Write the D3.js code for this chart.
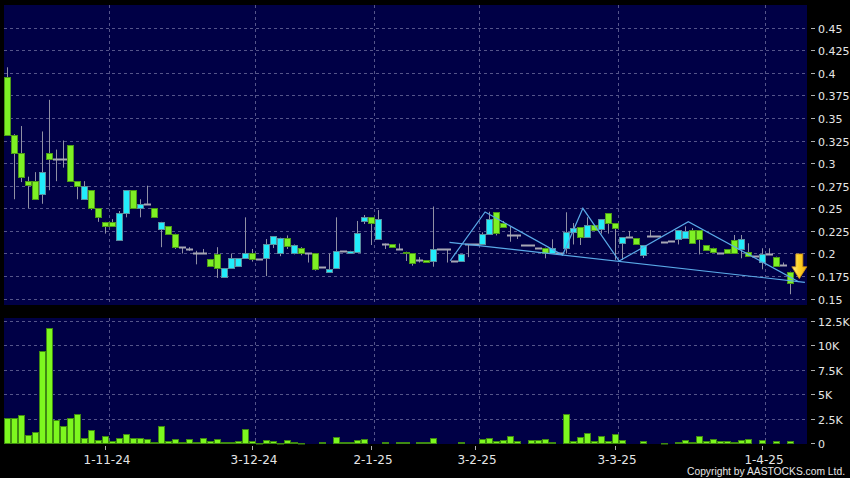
<!DOCTYPE html>
<html><head><meta charset="utf-8">
<script src="https://cdn.jsdelivr.net/npm/d3@7"></script>
<style>
html,body{margin:0;padding:0;background:#000;}
svg{display:block;}
</style></head>
<body>
<svg id="chart" width="850" height="478"></svg>
<script>
// ---------------- DATA ----------------
const openP = [0.395,0.331,0.311,0.28,0.28,0.266,0.311,0.305,0.305,0.32,0.28,0.26,0.27,0.25,0.235,0.235,0.215,0.245,0.27,0.25,
0.255,0.25,0.227,0.23,0.222,0.207,0.205,0.2,0.2,0.194,0.199,0.174,0.184,0.186,0.195,0.201,0.194,0.195,0.211,0.2,
0.2175,0.2,0.206,0.2,0.2,0.185,0.18,0.184,0.203,0.2,0.202,0.2365,0.24,0.2157,0.211,0.2105,0.205,0.202,0.2,0.193,
0.1928,0.1917,0.205,0.205,0.192,0.192,0.2105,0.2105,0.2102,0.2212,0.2456,0.2334,0.22,0.22,0.2094,0.2094,0.2058,0.2064,0.2002,0.2,
0.2058,0.2242,0.229,0.2186,0.2315,0.2268,0.2445,0.2334,0.2113,0.2186,0.2168,0.1983,0.2194,0.2194,0.2124,0.2138,0.2157,0.2168,0.226,0.226,
0.209,0.2064,0.2009,0.2047,0.2149,0.2047,0.2013,0.1972,0.1909,0.1995,0.1965,0.1873,0.1799];
const highP = [0.406,0.332,0.341,0.285,0.29,0.335,0.37,0.315,0.325,0.32,0.28,0.28,0.27,0.25,0.235,0.238,0.247,0.27,0.27,0.26,
0.275,0.25,0.235,0.23,0.222,0.207,0.207,0.203,0.205,0.194,0.207,0.184,0.2,0.195,0.24,0.205,0.194,0.216,0.219,0.2175,
0.22,0.21,0.207,0.2,0.2,0.185,0.2,0.24,0.203,0.203,0.236,0.2426,0.24,0.248,0.211,0.2105,0.211,0.202,0.2,0.196,
0.1928,0.252,0.205,0.205,0.192,0.199,0.2105,0.2105,0.2234,0.2462,0.2456,0.236,0.2297,0.22,0.2094,0.2094,0.2058,0.2064,0.2157,0.2,
0.2456,0.2337,0.229,0.24,0.2315,0.2378,0.2445,0.2334,0.218,0.225,0.2168,0.2094,0.226,0.2194,0.2124,0.2138,0.226,0.23,0.228,0.226,
0.209,0.2064,0.2009,0.2047,0.2205,0.2205,0.2113,0.1972,0.2058,0.2058,0.1965,0.19,0.1799];
const lowP = [0.331,0.26,0.279,0.25,0.26,0.255,0.27,0.28,0.295,0.28,0.26,0.26,0.248,0.235,0.222,0.23,0.215,0.24,0.25,0.24,
0.255,0.24,0.207,0.222,0.205,0.2,0.203,0.188,0.2,0.186,0.173,0.173,0.184,0.186,0.195,0.191,0.194,0.175,0.206,0.197,
0.205,0.199,0.198,0.19,0.181,0.185,0.18,0.183,0.203,0.2,0.202,0.2326,0.2094,0.2157,0.205,0.2075,0.205,0.1917,0.1865,0.19,
0.1903,0.1854,0.205,0.19,0.192,0.192,0.196,0.2105,0.2094,0.2212,0.22,0.229,0.213,0.216,0.2094,0.2094,0.2058,0.1947,0.2002,0.2,
0.2,0.21,0.2094,0.2186,0.226,0.222,0.222,0.193,0.193,0.2186,0.2102,0.195,0.2194,0.2194,0.2124,0.2138,0.21,0.2168,0.212,0.199,
0.2039,0.2013,0.2009,0.2002,0.2002,0.1947,0.1972,0.1972,0.1825,0.1995,0.1862,0.1873,0.1549];
const closeP = [0.331,0.311,0.285,0.276,0.26,0.29,0.305,0.305,0.305,0.28,0.275,0.275,0.25,0.24,0.23,0.23,0.245,0.27,0.25,0.255,
0.255,0.24,0.235,0.222,0.207,0.207,0.205,0.2,0.2,0.186,0.184,0.184,0.195,0.195,0.201,0.194,0.194,0.211,0.219,0.2175,
0.208,0.209,0.2,0.2,0.183,0.185,0.183,0.203,0.203,0.203,0.223,0.24,0.234,0.2378,0.211,0.2075,0.205,0.2,0.19,0.193,
0.1903,0.205,0.205,0.205,0.192,0.199,0.2105,0.2105,0.2212,0.2382,0.2223,0.2297,0.22,0.22,0.2094,0.2094,0.2058,0.2002,0.2058,0.2,
0.2242,0.2286,0.2186,0.2315,0.226,0.2378,0.2334,0.2279,0.218,0.2186,0.2102,0.2094,0.2194,0.2194,0.2124,0.2138,0.226,0.2252,0.212,0.2157,
0.2039,0.2013,0.2009,0.2002,0.2002,0.216,0.1972,0.1972,0.1995,0.1995,0.1862,0.1873,0.167];
const volume = [2570,2630,2900,800,1170,9430,11830,2430,1770,2600,3000,500,1400,370,730,230,500,970,500,570,
400,130,1800,270,470,100,430,100,530,270,400,130,170,200,1430,230,30,330,230,70,
370,100,70,0,0,130,0,600,130,130,330,470,0,0,130,0,130,130,0,130,
130,500,0,0,0,100,0,0,430,530,200,330,730,200,0,330,370,400,130,0,
2970,270,630,1030,200,770,200,930,330,0,0,230,0,0,70,0,170,330,170,700,
230,430,200,270,100,330,430,0,370,0,270,0,270];
const tickIndex = [14,35,52,67,87,108];
const tickLabels = ["1-11-24","3-12-24","2-1-25","3-2-25","3-3-25","1-4-25"];
const priceTicks = [0.15,0.175,0.2,0.225,0.25,0.275,0.3,0.325,0.35,0.375,0.4,0.425,0.45];
const volTicks = [0,2500,5000,7500,10000,12500];
const volTickLabels = ["0","2.5K","5K","7.5K","10K","12.5K"];
// pattern annotation lines: [candle index (fractional), price]
const supportLine = [[63.3,0.2124],[114.2,0.1681]];
const zigzagLine = [[63.4,0.192],[68.4,0.2459],[79.5,0.1983],[82.4,0.25],[87.6,0.1917],[97.5,0.2352],[113.3,0.1688]];
const arrowMark = {index:113.4, top:0.1995, tip:0.1722};
const copyright = "Copyright by AASTOCKS.com Ltd.";

// ---------------- LAYOUT ----------------
const svg = d3.select("#chart");
const L = 4, R = 807;
const pTop = 5, pBot = 305, vTop = 318, vBot = 444;
const nSlots = 115;
const x = d3.scaleBand().domain(d3.range(nSlots)).range([L, R]).paddingInner(0.14).paddingOuter(0.07);
const step = x.step();
const cx = i => x(i) + x.bandwidth()/2;
const xf = d3.scaleLinear().domain([0, nSlots-1]).range([cx(0), cx(nSlots-1)]);
const y = d3.scaleLinear().domain([0.15, 0.45]).range([298.7, 27.5]);
const yv = d3.scaleLinear().domain([0, 12500]).range([443.3, 321]);

const navy = "#000046";
const gridC = "#55558a";
const textC = "#e6e6e6";
const font = "DejaVu Sans, Verdana, sans-serif";

svg.append("rect").attr("x",0).attr("y",0).attr("width",850).attr("height",478).attr("fill","#000");
svg.append("rect").attr("x",L).attr("y",pTop).attr("width",R-L).attr("height",pBot-pTop).attr("fill",navy);
svg.append("rect").attr("x",L).attr("y",vTop).attr("width",R-L).attr("height",vBot-vTop).attr("fill",navy);

// horizontal grid - price
svg.append("g").selectAll("line").data(priceTicks).join("line")
  .attr("x1",L).attr("x2",R).attr("y1",d=>Math.round(y(d))+0.5).attr("y2",d=>Math.round(y(d))+0.5)
  .attr("stroke",gridC).attr("stroke-dasharray","3,3").attr("stroke-width",1);
// horizontal grid - volume
svg.append("g").selectAll("line").data(volTicks.slice(1)).join("line")
  .attr("x1",L).attr("x2",R).attr("y1",d=>Math.round(yv(d))+0.5).attr("y2",d=>Math.round(yv(d))+0.5)
  .attr("stroke",gridC).attr("stroke-dasharray","3,3").attr("stroke-width",1);
// vertical grid
const vg = svg.append("g");
tickIndex.forEach(i=>{
  const gx = Math.round(cx(i)+step/2)+0.5;
  vg.append("line").attr("x1",gx).attr("x2",gx).attr("y1",pTop).attr("y2",pBot)
    .attr("stroke",gridC).attr("stroke-dasharray","3,3");
  vg.append("line").attr("x1",gx).attr("x2",gx).attr("y1",vTop).attr("y2",vBot)
    .attr("stroke",gridC).attr("stroke-dasharray","3,3");
});

// y axis labels
const ya = svg.append("g");
priceTicks.forEach(v=>{
  const yy = Math.round(y(v))+0.5;
  ya.append("line").attr("x1",811).attr("x2",815).attr("y1",yy).attr("y2",yy).attr("stroke","#b0b0b0");
  ya.append("text").attr("x",818).attr("y",yy+4).attr("fill",textC).attr("font-family",font)
    .attr("font-size","11px").text(String(+v.toFixed(3)));
});
volTicks.forEach((v,k)=>{
  const yy = Math.round(yv(v))+0.5;
  ya.append("line").attr("x1",811).attr("x2",815).attr("y1",yy).attr("y2",yy).attr("stroke","#b0b0b0");
  ya.append("text").attr("x",818).attr("y",yy+4).attr("fill",textC).attr("font-family",font)
    .attr("font-size","11px").text(volTickLabels[k]);
});

// x axis
const xa = svg.append("g");
tickIndex.forEach((i,k)=>{
  const tx = Math.round(cx(i))+0.5;
  xa.append("line").attr("x1",tx).attr("x2",tx).attr("y1",vBot+2).attr("y2",vBot+6).attr("stroke","#b0b0b0");
  xa.append("text").attr("x",tx+1.5).attr("y",464).attr("text-anchor","middle").attr("fill",textC)
    .attr("font-family",font).attr("font-size","12px").text(tickLabels[k]);
});

// volume bars
svg.append("g").selectAll("rect").data(volume.map((v,i)=>({v,i})).filter(d=>d.v>0)).join("rect")
  .attr("x",d=>Math.round(cx(d.i)-3)+0.5).attr("width",6)
  .attr("y",d=>Math.round(yv(d.v))+0.5).attr("height",d=>Math.max(0.5, Math.round(yv(0))-Math.round(yv(d.v))))
  .attr("fill","#7df71f").attr("stroke","#3f8a12").attr("stroke-width",1);

// candles
const cg = svg.append("g");
const greenFill="#7ef024", greenStroke="#4c9a18", cyanFill="#22ecfb", cyanStroke="#5a8ea0", wickC="#9090a4", dojiC="#a8a8b4";
openP.forEach((o,i)=>{
  const c = closeP[i], h = highP[i], l = lowP[i];
  const xc = Math.round(cx(i))+0.5;
  if (h>l) cg.append("line").attr("x1",xc).attr("x2",xc).attr("y1",y(h)).attr("y2",y(l)).attr("stroke",wickC);
  if (Math.abs(o-c) < 1e-6) {
    const yy = Math.round(y(o))+0.5;
    cg.append("line").attr("x1",xc-3.5).attr("x2",xc+3.5).attr("y1",yy).attr("y2",yy).attr("stroke",dojiC).attr("stroke-width",2);
  } else {
    const up = c>o;
    const yt = Math.round(y(Math.max(o,c)))+0.5, yb = Math.round(y(Math.min(o,c)))+0.5;
    cg.append("rect").attr("x",xc-3).attr("width",6).attr("y",yt).attr("height",Math.max(1,yb-yt))
      .attr("fill",up?cyanFill:greenFill).attr("stroke",up?cyanStroke:greenStroke);
  }
});

// pattern lines
const lineGen = d3.line().x(d=>xf(d[0])).y(d=>y(d[1]));
svg.append("path").attr("d",lineGen(supportLine)).attr("fill","none").attr("stroke","#5aaae8").attr("stroke-width",1.2);
svg.append("path").attr("d",lineGen(zigzagLine)).attr("fill","none").attr("stroke","#5aaae8").attr("stroke-width",1.2);

// arrow
const ax = xf(arrowMark.index), at = y(arrowMark.top), ap = y(arrowMark.tip);
const hh = (ap-at)*0.48;
const arrowPts = [[ax-3.5,at],[ax+3.5,at],[ax+3.5,ap-hh],[ax+7.5,ap-hh],[ax,ap],[ax-7.5,ap-hh],[ax-3.5,ap-hh]];
const grad = svg.append("defs").append("linearGradient").attr("id","ag").attr("x1",0).attr("x2",1).attr("y1",0).attr("y2",0);
grad.append("stop").attr("offset","0%").attr("stop-color","#fff09a");
grad.append("stop").attr("offset","45%").attr("stop-color","#ffd428");
grad.append("stop").attr("offset","100%").attr("stop-color","#f0b010");
svg.append("path").attr("d",d3.line()(arrowPts)+"Z").attr("fill","url(#ag)").attr("stroke","#d09010").attr("stroke-width",0.8);

// copyright
svg.append("text").attr("x",845).attr("y",475).attr("text-anchor","end").attr("fill",textC)
  .attr("font-family","Liberation Sans Narrow, Liberation Sans, Arial, sans-serif").attr("font-size","10px")
  .attr("textLength",158).attr("lengthAdjust","spacingAndGlyphs").text(copyright);
</script>
</body></html>
